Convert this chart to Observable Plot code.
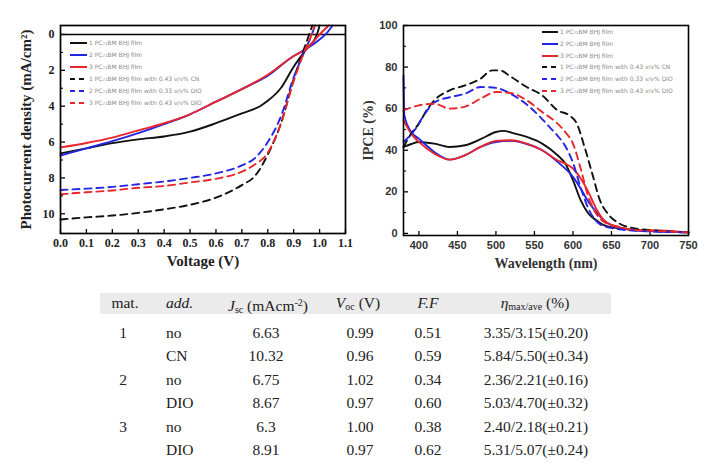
<!DOCTYPE html>
<html>
<head>
<meta charset="utf-8">
<script src="https://cdn.jsdelivr.net/npm/d3@7"></script>
<script src="https://cdn.jsdelivr.net/npm/@observablehq/plot@0.6"></script>
<style>
  html, body { margin: 0; padding: 0; background: #fff; }
  #root { position: relative; width: 713px; height: 467px; overflow: hidden; background: #fff; }
  .panel { position: absolute; top: 0; }
  .legend { position: absolute; font-family: "DejaVu Sans", sans-serif; font-size: 6px; color: #8a8a8a; }
  .legend .row { position: absolute; white-space: nowrap; height: 8px; line-height: 8px; }
  .legend svg { position: absolute; top: 0; }
  .legend span { position: absolute; top: 0; }
  #table { position: absolute; left: 0; top: 0; width: 713px; height: 467px; font-family: "Liberation Serif", serif; font-size: 15.5px; color: #222; }
  #table .band { position: absolute; left: 100px; top: 293px; width: 511px; height: 21px; background: #ebebeb; }
  #table .cell { position: absolute; white-space: nowrap; }
  #table sub, #table sup { font-size: 10px; }
  #table sub { vertical-align: -2px; }
  #table sup { vertical-align: 5px; }
  #table i { font-style: italic; }
</style>
</head>
<body>
<div id="root">
  <div id="left" class="panel" style="left:0"></div>
  <div id="right" class="panel" style="left:360px"></div>
  <div id="legL" class="legend"></div>
  <div id="legR" class="legend"></div>
  <div id="table"><div class="band"></div></div>
</div>
<script>
// ---------------- data: J-V curves ----------------
const v1 = [0, 0.1, 0.2, 0.3, 0.4, 0.5, 0.6, 0.7, 0.77, 0.8, 0.85, 0.9, 0.95, 0.99, 1.0];
const j1 = [6.63, 6.35, 6.06, 5.85, 5.69, 5.42, 4.95, 4.4, 4.0, 3.7, 3.0, 1.8, 0.8, 0, -0.5];
const v2 = [0, 0.1, 0.2, 0.3, 0.4, 0.5, 0.6, 0.7, 0.8, 0.9, 0.95, 1.0, 1.023, 1.05];
const j2 = [6.75, 6.35, 5.95, 5.5, 5.0, 4.45, 3.75, 3.05, 2.3, 1.2, 0.8, 0.28, 0, -0.5];
const v3 = [0, 0.1, 0.2, 0.3, 0.4, 0.5, 0.6, 0.7, 0.8, 0.9, 0.95, 1.0, 1.035];
const j3 = [6.3, 6.05, 5.75, 5.35, 4.95, 4.45, 3.75, 3.05, 2.25, 1.2, 0.8, 0, -0.5];
const v1a = [0, 0.1, 0.2, 0.3, 0.4, 0.5, 0.6, 0.7, 0.75, 0.8, 0.85, 0.9, 0.93, 0.96, 0.972];
const j1a = [10.32, 10.2, 10.1, 9.95, 9.75, 9.5, 9.1, 8.4, 7.9, 6.7, 5.0, 2.5, 1.2, 0, -0.5];
const v2a = [0, 0.1, 0.2, 0.3, 0.4, 0.5, 0.6, 0.7, 0.75, 0.8, 0.85, 0.9, 0.94, 0.97, 0.982];
const j2a = [8.67, 8.6, 8.5, 8.35, 8.2, 8.0, 7.75, 7.3, 6.9, 6.0, 4.6, 2.4, 1.0, 0, -0.5];
const v3a = [0, 0.1, 0.2, 0.3, 0.4, 0.5, 0.6, 0.7, 0.75, 0.8, 0.85, 0.9, 0.94, 0.97, 0.982];
const j3a = [8.91, 8.8, 8.7, 8.55, 8.45, 8.25, 8.05, 7.65, 7.25, 6.6, 5.0, 2.6, 1.0, 0, -0.5];

// ---------------- data: IPCE spectra ----------------
const w1 = [380, 390, 400, 420, 440, 460, 480, 500, 510, 520, 540, 560, 580, 590, 600, 610, 620, 630, 640, 660, 680, 700, 750];
const e1 = [41.6, 43, 44, 43.2, 41.6, 42.4, 45.3, 48.8, 49.3, 48.5, 46.4, 43.2, 37.6, 33.6, 25.6, 16, 9.6, 6.4, 4, 2.4, 1.6, 1.1, 0.5];
const w2 = [380, 381, 390, 400, 420, 440, 460, 480, 500, 520, 540, 560, 580, 600, 610, 620, 630, 640, 650, 660, 680, 700, 750];
const e2 = [76, 57, 48.8, 45.6, 39.2, 35.5, 37.6, 41.6, 44, 44.5, 43, 40, 34.4, 27.2, 21.6, 15.2, 10.4, 6.4, 4, 2.9, 1.6, 1.1, 0.5];
const w3 = [380, 390, 400, 420, 440, 460, 480, 500, 520, 540, 560, 580, 590, 600, 610, 620, 630, 640, 650, 660, 680, 700, 750];
const e3 = [54.4, 48, 44, 38.4, 35.5, 37.6, 41.6, 44.5, 44.8, 43.2, 40, 35.2, 33.6, 31.2, 26.4, 20, 12, 6.4, 4, 2.9, 1.6, 1.6, 0.5];
const w1a = [380, 390, 400, 410, 420, 440, 460, 480, 495, 505, 520, 540, 560, 580, 595, 605, 615, 625, 635, 645, 660, 680, 700, 750];
const e1a = [41.6, 48, 52.8, 59.2, 64, 68.8, 71.2, 74.4, 78.4, 78.4, 75.2, 70.4, 66.4, 59.2, 56.8, 52.8, 41.6, 28.8, 16, 9.6, 4.8, 2.4, 1.6, 0.5];
const w2a = [380, 395, 405, 420, 440, 460, 480, 500, 520, 540, 560, 570, 580, 590, 600, 610, 620, 630, 640, 660, 680, 700, 750];
const e2a = [44, 50, 56, 63, 65.5, 67.2, 70.4, 70, 67, 62, 55, 51, 47, 42, 34, 22, 12, 6, 3.5, 2, 1.3, 1, 0.5];
const w3a = [380, 400, 420, 440, 460, 480, 500, 520, 540, 560, 580, 590, 600, 610, 620, 630, 640, 660, 680, 700, 750];
const e3a = [59.2, 61.6, 62.4, 60, 61, 64.8, 68, 67.5, 64, 58.4, 52.8, 48.8, 43.2, 31.2, 17.6, 9.6, 5.6, 3.2, 1.6, 1.3, 0.5];

// ---------------- ticks & labels ----------------
const vTicks = [0, 0.1, 0.2, 0.3, 0.4, 0.5, 0.6, 0.7, 0.8, 0.9, 1.0, 1.1];
const jTicks = [0, 2, 4, 6, 8, 10];
const jMinor = [1, 3, 5, 7, 9];
const wTicks = [400, 450, 500, 550, 600, 650, 700, 750];
const eTicks = [0, 20, 40, 60, 80, 100];
const eMinor = [10, 30, 50, 70, 90];
const legendNames = [
  "1 PC\u2087\u2081BM BHJ film",
  "2 PC\u2087\u2081BM BHJ film",
  "3 PC\u2087\u2081BM BHJ film",
  "1 PC\u2087\u2081BM BHJ film with 0.43 v/v% CN",
  "2 PC\u2087\u2081BM BHJ film with 0.33 v/v% DIO",
  "3 PC\u2087\u2081BM BHJ film with 0.43 v/v% DIO"
];

// ---------------- table ----------------
const matCol = ["1", "", "2", "", "3", ""];
const addCol = ["no", "CN", "no", "DIO", "no", "DIO"];
const jscCol = ["6.63", "10.32", "6.75", "8.67", "6.3", "8.91"];
const vocCol = ["0.99", "0.96", "1.02", "0.97", "1.00", "0.97"];
const ffCol = ["0.51", "0.59", "0.34", "0.60", "0.38", "0.62"];
const etaCol = ["3.35/3.15(\u00b10.20)", "5.84/5.50(\u00b10.34)", "2.36/2.21(\u00b10.16)", "5.03/4.70(\u00b10.32)", "2.40/2.18(\u00b10.21)", "5.31/5.07(\u00b10.24)"];

// ---------------- styles ----------------
const BLACK = "#111111", BLUE = "#2424e4", RED = "#e8262b";
const DASH = "7,5";
const series = [
  {i: 0, color: BLACK, dash: null},
  {i: 1, color: BLUE, dash: null},
  {i: 2, color: RED, dash: null},
  {i: 3, color: BLACK, dash: DASH},
  {i: 4, color: BLUE, dash: DASH},
  {i: 5, color: RED, dash: DASH}
];
const jvData = [[v1, j1], [v2, j2], [v3, j3], [v1a, j1a], [v2a, j2a], [v3a, j3a]];
const ipceData = [[w1, e1], [w2, e2], [w3, e3], [w1a, e1a], [w2a, e2a], [w3a, e3a]];

const serif = "Liberation Serif, serif";

function lineMarks(data) {
  return series.map(s => {
    const [xs, ys] = data[s.i];
    const rows = xs.map((x, k) => ({x, y: ys[k]}));
    return Plot.line(rows, {x: "x", y: "y", stroke: s.color, strokeWidth: 1.9,
      strokeDasharray: s.dash || undefined, curve: "monotone-x"});
  });
}

// ---------- left: J-V ----------
const leftW = 360, leftH = 280, lML = 60, lMR = 15, lMT = 25, lMB = 47;
const lpw = leftW - lML - lMR, lph = leftH - lMT - lMB;
const left = Plot.plot({
  width: leftW, height: leftH,
  marginLeft: lML, marginRight: lMR, marginTop: lMT, marginBottom: lMB,
  style: {fontFamily: serif, fontWeight: "bold", fontSize: "12px", color: "#222", background: "transparent"},
  x: {domain: [0, 1.1], label: null},
  y: {domain: [-0.5, 11.1], reverse: true, label: null},
  marks: [
    Plot.axisX({ticks: vTicks, tickSize: 0, tickPadding: 5, tickFormat: d3.format(".1f"), label: null}),
    Plot.axisY({ticks: jTicks, tickSize: 0, tickPadding: 6, label: null}),
    Plot.tickX(vTicks, {x: d => d, insetTop: lph - 4, stroke: "#000", strokeWidth: 1.3}),
    Plot.tickY(jTicks, {y: d => d, insetRight: lpw - 5, stroke: "#000", strokeWidth: 1.3}),
    Plot.tickY(jMinor, {y: d => d, insetRight: lpw - 3, stroke: "#000", strokeWidth: 1.1}),
    Plot.ruleY([0], {stroke: "#000", strokeWidth: 1.6}),
    ...lineMarks(jvData),
    Plot.frame({stroke: "#000", strokeWidth: 1.7}),
    Plot.text(["Voltage (V)"], {text: d => d, frameAnchor: "bottom", dy: 32, fontSize: 15, fontWeight: "bold", fontFamily: serif, fill: "#222"}),
    Plot.text(["Photocurrent density (mA/cm\u00b2)"], {text: d => d, frameAnchor: "left", textAnchor: "middle", rotate: -90, dx: -34, fontSize: 15, fontWeight: "bold", fontFamily: serif, fill: "#222"})
  ]
});
document.getElementById("left").appendChild(left);

// ---------- right: IPCE ----------
const rightW = 353, rightH = 280, rML = 43, rMR = 25, rMT = 25, rMB = 45;
const rpw = rightW - rML - rMR, rph = rightH - rMT - rMB;
const right = Plot.plot({
  width: rightW, height: rightH,
  marginLeft: rML, marginRight: rMR, marginTop: rMT, marginBottom: rMB,
  style: {fontFamily: "Liberation Sans, Arial, sans-serif", fontWeight: "bold", fontSize: "11px", color: "#333", background: "transparent"},
  x: {domain: [380, 750], label: null},
  y: {domain: [-1, 100], label: null},
  marks: [
    Plot.axisX({ticks: wTicks, tickSize: 0, tickPadding: 6, label: null}),
    Plot.axisY({ticks: eTicks, tickSize: 0, tickPadding: 6, label: null}),
    Plot.tickX(wTicks, {x: d => d, insetTop: rph - 4, stroke: "#000", strokeWidth: 1.3}),
    Plot.tickY(eTicks, {y: d => d, insetRight: rpw - 5, stroke: "#000", strokeWidth: 1.3}),
    Plot.tickY(eMinor, {y: d => d, insetRight: rpw - 3, stroke: "#000", strokeWidth: 1.1}),
    ...lineMarks(ipceData),
    Plot.frame({stroke: "#000", strokeWidth: 1.6}),
    Plot.text(["Wavelength (nm)"], {text: d => d, frameAnchor: "bottom", dy: 32, fontSize: 14, fontWeight: "bold", fontFamily: serif, fill: "#333"}),
    Plot.text(["IPCE (%)"], {text: d => d, frameAnchor: "left", textAnchor: "middle", rotate: -90, dx: -35, fontSize: 14, fontWeight: "bold", fontFamily: serif, fill: "#333"})
  ]
});
document.getElementById("right").appendChild(right);

// ---------- legends ----------
function buildLegend(el, x0, y0, step, swW) {
  series.forEach((s, k) => {
    const row = document.createElement("div");
    row.className = "row";
    row.style.left = x0 + "px";
    row.style.top = (y0 + k * step - 4) + "px";
    const svg = d3.create("svg").attr("width", swW).attr("height", 8);
    svg.append("line").attr("x1", 0).attr("x2", swW).attr("y1", 4).attr("y2", 4)
      .attr("stroke", s.color).attr("stroke-width", 2)
      .attr("stroke-dasharray", s.dash ? "5,4" : null);
    row.appendChild(svg.node());
    const sp = document.createElement("span");
    sp.style.left = (swW + 2) + "px";
    sp.textContent = legendNames[k];
    row.appendChild(sp);
    el.appendChild(row);
  });
}
buildLegend(document.getElementById("legL"), 70, 43, 12, 17);
buildLegend(document.getElementById("legR"), 542, 32, 11.8, 16);

// ---------- table ----------
const tbl = document.getElementById("table");
function cell(html, x, y, align) {
  const d = document.createElement("div");
  d.className = "cell";
  d.innerHTML = html;
  d.style.top = (y - 11) + "px";
  d.style.lineHeight = "22px";
  if (align === "left") { d.style.left = x + "px"; }
  else { d.style.left = (x - 80) + "px"; d.style.width = "160px"; d.style.textAlign = "center"; }
  tbl.appendChild(d);
}
const colX = {mat: 125, add: 166, jsc: 268, voc: 358, ff: 428, eta: 535};
const headY = 303;
cell("mat.", colX.mat, headY);
cell("<i>add.</i>", colX.add, headY, "left");
cell("<i>J</i><sub>sc</sub> (mAcm<sup>-2</sup>)", colX.jsc, headY);
cell("<i>V</i><sub>oc</sub> (V)", colX.voc, headY);
cell("<i>F.F</i>", colX.ff, headY);
cell("<i>\u03b7</i><sub>max/ave</sub> (%)", colX.eta, headY);
matCol.forEach((m, i) => {
  const y = 333 + i * 23.4;
  if (m) cell(m, colX.mat - 2, y);
  cell(addCol[i], colX.add, y, "left");
  cell(jscCol[i], colX.jsc - 2, y);
  cell(vocCol[i], colX.voc + 2, y);
  cell(ffCol[i], colX.ff, y);
  cell(etaCol[i], colX.eta + 1, y);
});
</script>
</body>
</html>
